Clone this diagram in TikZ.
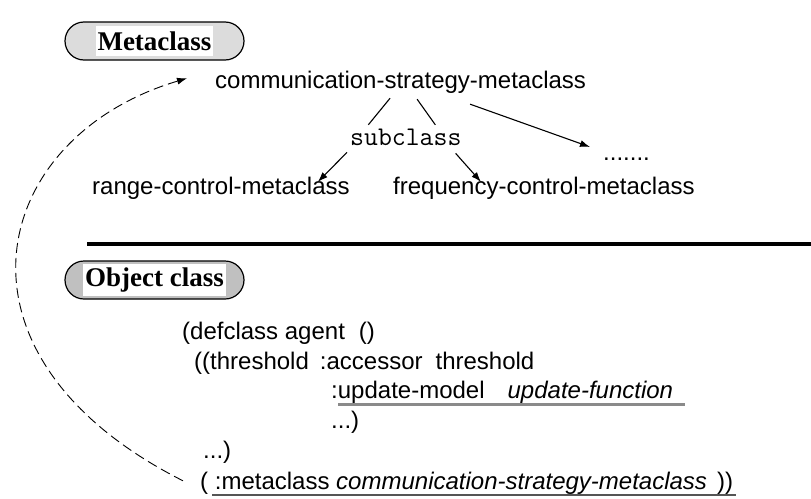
\documentclass[tikz,border=0pt]{standalone}
\usepackage{fontspec}
\newfontfamily\arialfont{Liberation Sans}
\newfontfamily\timesfont{Liberation Serif}
\usepackage{tikz}
\usetikzlibrary{arrows.meta, calc}
\usepackage{xcolor}
\definecolor{pilllight}{HTML}{DCDCDC}
\definecolor{pilldark}{HTML}{C0C0C0}
\definecolor{markgray}{HTML}{8A8A8A}
\definecolor{rulegray}{HTML}{555555}

\begin{document}
\begin{tikzpicture}[
    x=1pt, y=-1pt,
    pill/.style={draw, line width=1.2pt, rounded corners=19pt, minimum width=179pt, minimum height=38pt, inner sep=0pt},
    pilltext/.style={fill=white, font=\timesfont\bfseries\fontsize{27}{29}\selectfont, inner xsep=2pt, minimum height=30pt},
    term/.style={font=\arialfont\fontsize{24}{26}\selectfont, inner sep=2pt, anchor=base west},
    code/.style={font=\arialfont\fontsize{24}{26}\selectfont, inner sep=0pt, anchor=base west},
    link/.style={line width=1.1pt},
    arrow/.style={-{Latex[length=10pt,width=7pt]}, line width=1.1pt},
    dashline/.style={-{Latex[length=10pt,width=7pt]}, line width=0.9pt, dash pattern=on 10pt off 5pt}
]
    \useasboundingbox (0,0) rectangle (811,498);

    % Layer headers
    \node[pill, fill=pilllight] (metapill) at (154.5,41) {};
    \node[pilltext] (metatitle) at (metapill) {Metaclass};
    \node[pill, fill=pilldark] (objpill) at (154.5,280) {};
    \node[pilltext] (objtitle) at (objpill) {Object class};

    % Metaclass tree
    \node[term] (comm) at (213,88.5) {communication-strategy-metaclass};
    \node[term, font=\ttfamily\fontsize{27}{29}\selectfont] (sub) at (348,145) {subclass};
    \node[term] (range) at (90,194.5) {range-control-metaclass};
    \node[term] (freq) at (391,194.5) {frequency-control-metaclass};
    \node[term] (more) at (601,160) {.......};

    \draw[link] ($(comm.south)+(-10.5,2.5)$) -- ($(sub.north)+(-37.5,-1.5)$);
    \draw[link] ($(comm.south)+(16.5,3.5)$) -- ($(sub.north)+(29.5,-1.5)$);
    \draw[arrow] ($(comm.south)+(69.5,8.5)$) -- ($(more.west)+(-11,-11.75)$);
    \draw[arrow] ($(sub.south west)+(-1,5)$) -- ($(range.north east)+(-34,7)$);
    \draw[arrow] ($(sub.south east)+(-8,6)$) -- ($(freq.north west)+(90,7)$);

    % Separator
    \draw[line width=4.5pt] (87,244) -- (811,244);

    % Object class code
    \node[code] (defline) at (182,339.5) {(defclass agent\hspace{14pt}()};
    \node[code] (slotline) at (194,369) {((threshold\hspace{11pt}:accessor\hspace{13pt}threshold};
    \node[code] (updline) at (331,398.5) {:update-model\hspace{23pt}\textit{update-function}};
    \node[code] (dotsline) at (331,428) {...)};
    \node[code] (closeline) at (203,458) {...)};
    \node[code] (metaline) at (200,489) {( :metaclass \textit{communication-strategy-metaclass}\hspace{10pt}))};

    \draw[line width=2.4pt, draw=markgray] ($(updline.base west)+(7,6)$) -- ($(updline.base east)+(12,6)$);
    \draw[line width=1.2pt, draw=rulegray] ($(metaline.base west)+(12,6)$) -- ($(metaline.base east)+(3,6)$);

    % Instance-of link
    \draw[dashline] ($(metaline.west)+(-17,-2)$) .. controls (-66,355) and (-11,137) .. ($(comm.west)+(-26,-4)$);
\end{tikzpicture}
\end{document}
